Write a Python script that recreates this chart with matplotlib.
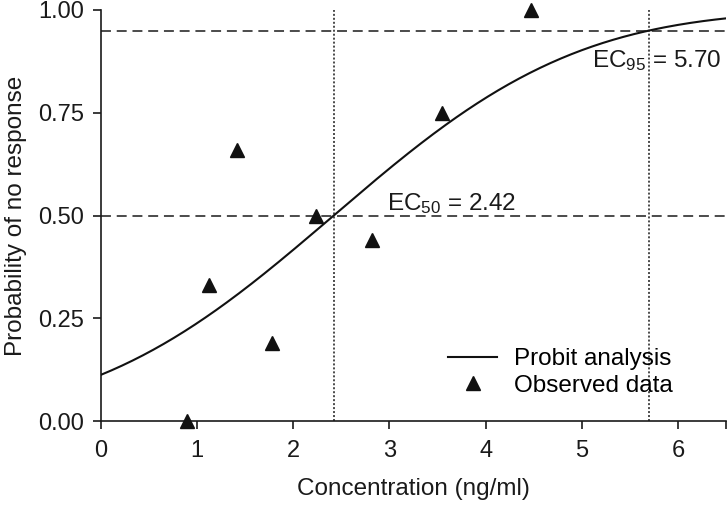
import math
import numpy as np
import matplotlib
matplotlib.use("Agg")
import matplotlib.pyplot as plt

plt.rcParams['font.family'] = ['Liberation Sans', 'DejaVu Sans']
plt.rcParams['mathtext.fontset'] = 'custom'
plt.rcParams['mathtext.rm'] = 'Liberation Sans'
plt.rcParams['mathtext.it'] = 'Liberation Sans'

# Observed data
conc_obs = [0.89, 1.12, 1.41, 1.78, 2.24, 2.82, 3.55, 4.47]
prob_obs = [0.00, 0.33, 0.66, 0.19, 0.50, 0.44, 0.75, 1.00]

# Probit model parameters
ec50 = 2.42
ec95 = 5.70
z95 = 1.645
sigma = (ec95 - ec50) / z95

x_ticks = [0, 1, 2, 3, 4, 5, 6, 6.5]
x_ticklabels = ['0', '1', '2', '3', '4', '5', '6', '']
y_ticks = [0.0, 0.25, 0.5, 0.75, 1.0]
y_ticklabels = ['0.00', '0.25', '0.50', '0.75', '1.00']

xc = np.linspace(0, 6.5, 300)
pc = np.array([0.5 * (1 + math.erf((v - ec50) / (sigma * math.sqrt(2)))) for v in xc])

fig = plt.figure(figsize=(7.27, 5.05), dpi=100)
ax = fig.add_axes([101/727, 1 - 421/505, 625/727, 411/505])

ink = '#1a1a1a'
ax.axhline(0.5, color=ink, ls=(0, (6.5, 3.8)), lw=1.1, zorder=1)
ax.axhline(0.95, color=ink, ls=(0, (6.5, 3.8)), lw=1.1, zorder=1)
ax.axvline(ec50, color=ink, ls=(0, (1.3, 1.3)), lw=1.1, zorder=1)
ax.axvline(ec95, color=ink, ls=(0, (1.3, 1.3)), lw=1.1, zorder=1)

ax.plot(xc, pc, color='#111111', lw=1.5, label='Probit analysis', zorder=3)
ax.plot(conc_obs, prob_obs, ls='none', marker='^', color='#111111', ms=9.5,
        label='Observed data', clip_on=False, zorder=4)

ax.text(2.97, 0.513, r'EC$_{50}$ = 2.42', fontsize=17.5, color=ink, va='baseline', ha='left')
ax.text(6.45, 0.878, r'EC$_{95}$ = 5.70', fontsize=17.5, color=ink, va='center', ha='right')

ax.set_xlim(0, 6.5)
ax.set_ylim(0, 1.0)
ax.set_xticks(x_ticks)
ax.set_xticklabels(x_ticklabels)
ax.set_yticks(y_ticks)
ax.set_yticklabels(y_ticklabels)
ax.tick_params(axis='both', labelsize=17, length=6, width=1.2, colors=ink)
ax.tick_params(axis='x', pad=8)
ax.tick_params(axis='y', pad=6)
for s in ['top', 'right']:
    ax.spines[s].set_visible(False)
for s in ['left', 'bottom']:
    ax.spines[s].set_linewidth(1.2)
    ax.spines[s].set_color(ink)

ax.set_xlabel('Concentration (ng/ml)', fontsize=17.5, color=ink, labelpad=11)
ax.set_ylabel('Probability of no response', fontsize=17.5, color=ink, labelpad=8)

leg = ax.legend(loc='lower right', bbox_to_anchor=(0.938, 0.023), frameon=False, fontsize=17.5,
                handlelength=2.0, handletextpad=0.7, labelspacing=0.2, borderaxespad=0.2)

fig.savefig('out.png', dpi=100)
